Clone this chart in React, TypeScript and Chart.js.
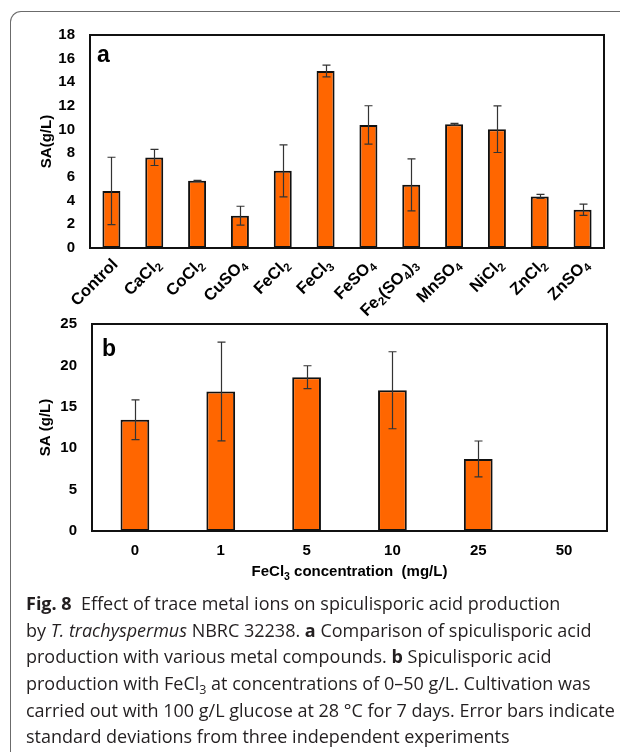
import React, { useEffect, useRef } from "react";
import { Chart, registerables } from "chart.js";

Chart.register(...registerables);

// ---------- data ----------
const metalCompounds = [
  "Control", "CaCl_2", "CoCl_2", "CuSO_4", "FeCl_2", "FeCl_3",
  "FeSO_4", "Fe_2(SO_4)_3", "MnSO_4", "NiCl_2", "ZnCl_2", "ZnSO_4",
];
const metalSA = [4.82, 7.65, 5.68, 2.73, 6.52, 14.96, 10.4, 5.34, 10.46, 10.04, 4.36, 3.23];
const metalSD = [2.85, 0.68, 0.04, 0.8, 2.2, 0.5, 1.62, 2.2, 0.08, 1.97, 0.17, 0.48];
const metalYMax = 18;
const metalYStep = 2;

const fecl3Conc = ["0", "1", "5", "10", "25", "50"];
const fecl3SA = [13.43, 16.85, 18.58, 17.0, 8.7, 0];
const fecl3SD = [2.4, 5.97, 1.38, 4.65, 2.17, 0];
const fecl3YMax = 25;
const fecl3YStep = 5;

// ---------- style ----------
const FONT = "'Liberation Sans', Arial, Helvetica, sans-serif";
const BAR_FILL = "#FF6600";
const BAR_EDGE = "#111111";
const ERR_COLOR = "#333333";

Chart.defaults.font.family = FONT;
Chart.defaults.color = "#000";

function segs(label: string) {
  const out: { t: string; sub: boolean }[] = [];
  const re = /_(\d)/g;
  let last = 0;
  let m: RegExpExecArray | null;
  while ((m = re.exec(label))) {
    if (m.index > last) out.push({ t: label.slice(last, m.index), sub: false });
    out.push({ t: m[1], sub: true });
    last = re.lastIndex;
  }
  if (last < label.length) out.push({ t: label.slice(last), sub: false });
  return out;
}

function errorBarsPlugin(sd: number[]) {
  return {
    id: "errorBars",
    afterDatasetsDraw(chart: any) {
      const ctx = chart.ctx;
      const xs = chart.scales.x;
      const ys = chart.scales.y;
      const vals = chart.data.datasets[0].data as number[];
      ctx.save();
      ctx.strokeStyle = ERR_COLOR;
      ctx.lineWidth = 1.2;
      vals.forEach((v, i) => {
        const e = sd[i];
        if (!e) return;
        const x = Math.round(xs.getPixelForValue(i)) + 0.5;
        const yt = ys.getPixelForValue(v + e);
        const yb = ys.getPixelForValue(v - e);
        ctx.beginPath();
        ctx.moveTo(x, yt);
        ctx.lineTo(x, yb);
        ctx.moveTo(x - 4, yt);
        ctx.lineTo(x + 4, yt);
        ctx.moveTo(x - 4, yb);
        ctx.lineTo(x + 4, yb);
        ctx.stroke();
      });
      ctx.restore();
    },
  };
}

function framePlugin(letter: string, lx: number, ly: number) {
  return {
    id: "frame",
    afterDraw(chart: any) {
      const { left, top, right, bottom } = chart.chartArea;
      const ctx = chart.ctx;
      ctx.save();
      ctx.strokeStyle = "#111";
      ctx.lineWidth = 2;
      ctx.strokeRect(left, top, right - left, bottom - top);
      ctx.fillStyle = "#000";
      ctx.font = `bold 23px ${FONT}`;
      ctx.textAlign = "left";
      ctx.textBaseline = "alphabetic";
      ctx.fillText(letter, left + lx, top + ly);
      ctx.restore();
    },
  };
}

const rotatedLabelsPlugin = {
  id: "rotatedLabels",
  afterDraw(chart: any) {
    const ctx = chart.ctx;
    const xs = chart.scales.x;
    const axisY = chart.chartArea.bottom;
    const main = `bold 16.5px ${FONT}`;
    const sub = `bold 11.5px ${FONT}`;
    ctx.save();
    ctx.fillStyle = "#000";
    ctx.textAlign = "left";
    ctx.textBaseline = "alphabetic";
    metalCompounds.forEach((lab, i) => {
      const x = xs.getPixelForValue(i);
      const parts = segs(lab);
      let w = 0;
      parts.forEach((p) => {
        ctx.font = p.sub ? sub : main;
        w += ctx.measureText(p.t).width;
      });
      ctx.save();
      ctx.translate(x + 3, axisY + 13);
      ctx.rotate(-Math.PI / 4);
      let cx = -w;
      parts.forEach((p) => {
        ctx.font = p.sub ? sub : main;
        ctx.fillText(p.t, cx, p.sub ? 9.5 : 6);
        cx += ctx.measureText(p.t).width;
      });
      ctx.restore();
    });
    ctx.restore();
  },
};

const xTitlePlugin = {
  id: "xTitle",
  afterDraw(chart: any) {
    const ctx = chart.ctx;
    const { left, right } = chart.chartArea;
    const parts = [
      { t: "FeCl", sub: false },
      { t: "3", sub: true },
      { t: " concentration  (mg/L)", sub: false },
    ];
    const main = `bold 15px ${FONT}`;
    const sub = `bold 10.5px ${FONT}`;
    ctx.save();
    ctx.fillStyle = "#000";
    ctx.textAlign = "left";
    ctx.textBaseline = "alphabetic";
    let w = 0;
    parts.forEach((p) => {
      ctx.font = p.sub ? sub : main;
      w += ctx.measureText(p.t).width;
    });
    let cx = (left + right) / 2 - w / 2;
    const baseY = chart.chartArea.bottom + 45;
    parts.forEach((p) => {
      ctx.font = p.sub ? sub : main;
      ctx.fillText(p.t, cx, p.sub ? baseY + 3.5 : baseY);
      cx += ctx.measureText(p.t).width;
    });
    ctx.restore();
  },
};

function yAxis(max: number, step: number, width: number, title: string, titlePad: number) {
  return {
    min: 0,
    max,
    ticks: {
      stepSize: step,
      padding: 15,
      font: { size: 15, weight: "bold" as const, family: FONT },
      color: "#000",
    },
    grid: { display: false, drawTicks: false },
    border: { display: false },
    title: {
      display: true,
      text: title,
      font: { size: 15, weight: "bold" as const, family: FONT },
      color: "#000",
      padding: { top: titlePad, bottom: 0 },
    },
    afterFit: (s: any) => {
      s.width = width;
    },
  };
}

function ChartA() {
  const ref = useRef<HTMLCanvasElement | null>(null);
  useEffect(() => {
    const chart = new Chart(ref.current as HTMLCanvasElement, {
      type: "bar",
      data: {
        labels: metalCompounds,
        datasets: [
          {
            data: metalSA,
            backgroundColor: BAR_FILL,
            borderColor: BAR_EDGE,
            borderWidth: 2,
            borderSkipped: false,
            barPercentage: 0.42,
            categoryPercentage: 1,
          },
        ],
      },
      options: {
        responsive: false,
        animation: false,
        devicePixelRatio: 1,
        layout: { padding: { top: 35, right: 16, left: 0, bottom: 0 } },
        plugins: { legend: { display: false }, tooltip: { enabled: false } },
        scales: {
          x: {
            ticks: { display: false },
            grid: { display: false, drawTicks: false },
            border: { display: false },
            afterFit: (s: any) => {
              s.height = 72;
            },
          },
          y: yAxis(metalYMax, metalYStep, 90, "SA(g/L)", 38),
        },
      },
      plugins: [errorBarsPlugin(metalSD), framePlugin("a", 7, 27), rotatedLabelsPlugin],
    } as any);
    return () => chart.destroy();
  }, []);
  return (
    <canvas
      ref={ref}
      width={620}
      height={320}
      style={{ position: "absolute", left: 0, top: 0, width: 620, height: 320 }}
    />
  );
}

function ChartB() {
  const ref = useRef<HTMLCanvasElement | null>(null);
  useEffect(() => {
    const chart = new Chart(ref.current as HTMLCanvasElement, {
      type: "bar",
      data: {
        labels: fecl3Conc,
        datasets: [
          {
            data: fecl3SA,
            backgroundColor: BAR_FILL,
            borderColor: BAR_EDGE,
            borderWidth: 2,
            borderSkipped: false,
            barPercentage: 0.335,
            categoryPercentage: 1,
          },
        ],
      },
      options: {
        responsive: false,
        animation: false,
        devicePixelRatio: 1,
        layout: { padding: { top: 19, right: 13, left: 0, bottom: 0 } },
        plugins: { legend: { display: false }, tooltip: { enabled: false } },
        scales: {
          x: {
            ticks: {
              padding: 11,
              font: { size: 15, weight: "bold" as const, family: FONT },
              color: "#000",
            },
            grid: { display: false, drawTicks: false },
            border: { display: false },
            afterFit: (s: any) => {
              s.height = 59;
            },
          },
          y: yAxis(fecl3YMax, fecl3YStep, 92, "SA (g/L)", 37),
        },
      },
      plugins: [errorBarsPlugin(fecl3SD), framePlugin("b", 10, 32), xTitlePlugin],
    } as any);
    return () => chart.destroy();
  }, []);
  return (
    <canvas
      ref={ref}
      width={620}
      height={290}
      style={{ position: "absolute", left: 0, top: 300, width: 620, height: 290 }}
    />
  );
}

const captionLine: React.CSSProperties = { whiteSpace: "nowrap", height: 26.7 };

export default function App() {
  return (
    <div
      style={{
        position: "absolute",
        left: 0,
        top: 0,
        width: 620,
        height: 755,
        overflow: "hidden",
        background: "#fff",
      }}
    >
      <div
        style={{
          position: "absolute",
          left: 10,
          top: 11,
          width: 610,
          height: 741,
          boxSizing: "border-box",
          borderTop: "1.5px solid #6b6b6b",
          borderLeft: "1.5px solid #6b6b6b",
          borderTopLeftRadius: 11,
        }}
      />
      <ChartA />
      <ChartB />
      <div
        style={{
          position: "absolute",
          left: 26,
          top: 590,
          fontFamily: "'Open Sans', 'Noto Sans', sans-serif",
          fontSize: 18,
          lineHeight: "26.7px",
          color: "#231f20",
        }}
      >
        <div style={captionLine}>
          <b>Fig. 8</b>&nbsp; Effect of trace metal ions on spiculisporic acid production
        </div>
        <div style={captionLine}>
          by <i>T. trachyspermus</i> NBRC 32238. <b>a</b> Comparison of spiculisporic acid
        </div>
        <div style={captionLine}>
          production with various metal compounds. <b>b</b> Spiculisporic acid
        </div>
        <div style={captionLine}>
          production with FeCl
          <span style={{ fontSize: 12.5, position: "relative", top: 4 }}>3</span> at concentrations of
          0–50 g/L. Cultivation was
        </div>
        <div style={captionLine}>
          carried out with 100 g/L glucose at 28 °C for 7 days. Error bars indicate
        </div>
        <div style={captionLine}>standard deviations from three independent experiments</div>
      </div>
    </div>
  );
}
